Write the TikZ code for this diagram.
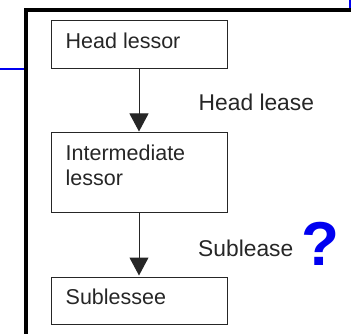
\documentclass[tikz,border=0pt]{standalone}
\usepackage{fontspec}
\setmainfont{Liberation Sans}
\usetikzlibrary{arrows.meta}
\definecolor{txt}{HTML}{262626}
\definecolor{qblue}{HTML}{0000F0}
\tikzset{
  box/.style={draw=txt, line width=1pt, minimum width=176pt, inner sep=0pt, outer sep=0pt},
  boxtext/.style={anchor=base west, inner sep=0pt, text=txt, font=\fontsize{21.5}{25}\selectfont},
  lbl/.style={anchor=base west, inner sep=0pt, text=txt, font=\fontsize{22.8}{26}\selectfont},
  flow/.style={draw=txt, line width=1pt, -{Triangle[width=19pt,length=18pt]}, shorten >=1.5pt},
  frame/.style={line width=4pt, black},
  blueline/.style={qblue, line width=1.4pt}
}
\begin{document}
\begin{tikzpicture}[x=1pt,y=-1pt]
\useasboundingbox (0,0) rectangle (351,334);
% frame lines
\draw[frame] (26,336) -- (26,10) -- (353,10);
\draw[blueline] (0,69) -- (24,69);
\draw[qblue, line width=2.5pt] (349.8,-1) -- (349.8,8);
% boxes
\node[box, minimum height=48pt] (hl) at (139,45) {};
\node[box, minimum height=80pt] (im) at (139,173) {};
\node[box, minimum height=47pt] (sl) at (139,300.5) {};
% texts
\node[boxtext] (thl) at (65.5,49) {Head lessor};
\node[boxtext] (tim1) at (65.5,160.7) {Intermediate};
\node[boxtext] (tim2) at (65.5,185.7) {lessor};
\node[boxtext] (tsl) at (65.5,304) {Sublessee};
% arrows
\draw[flow] (hl.south) -- (im.north);
\draw[flow] (im.south) -- (sl.north);
% labels
\node[lbl] (hlease) at (198.5,111) {Head lease};
\node[lbl] (slease) at (198,256) {Sublease};
\node[anchor=base west, inner sep=0pt, text=qblue, font=\fontsize{62}{64}\selectfont\bfseries] (q) at (301,265.5) {?};
\end{tikzpicture}
\end{document}
